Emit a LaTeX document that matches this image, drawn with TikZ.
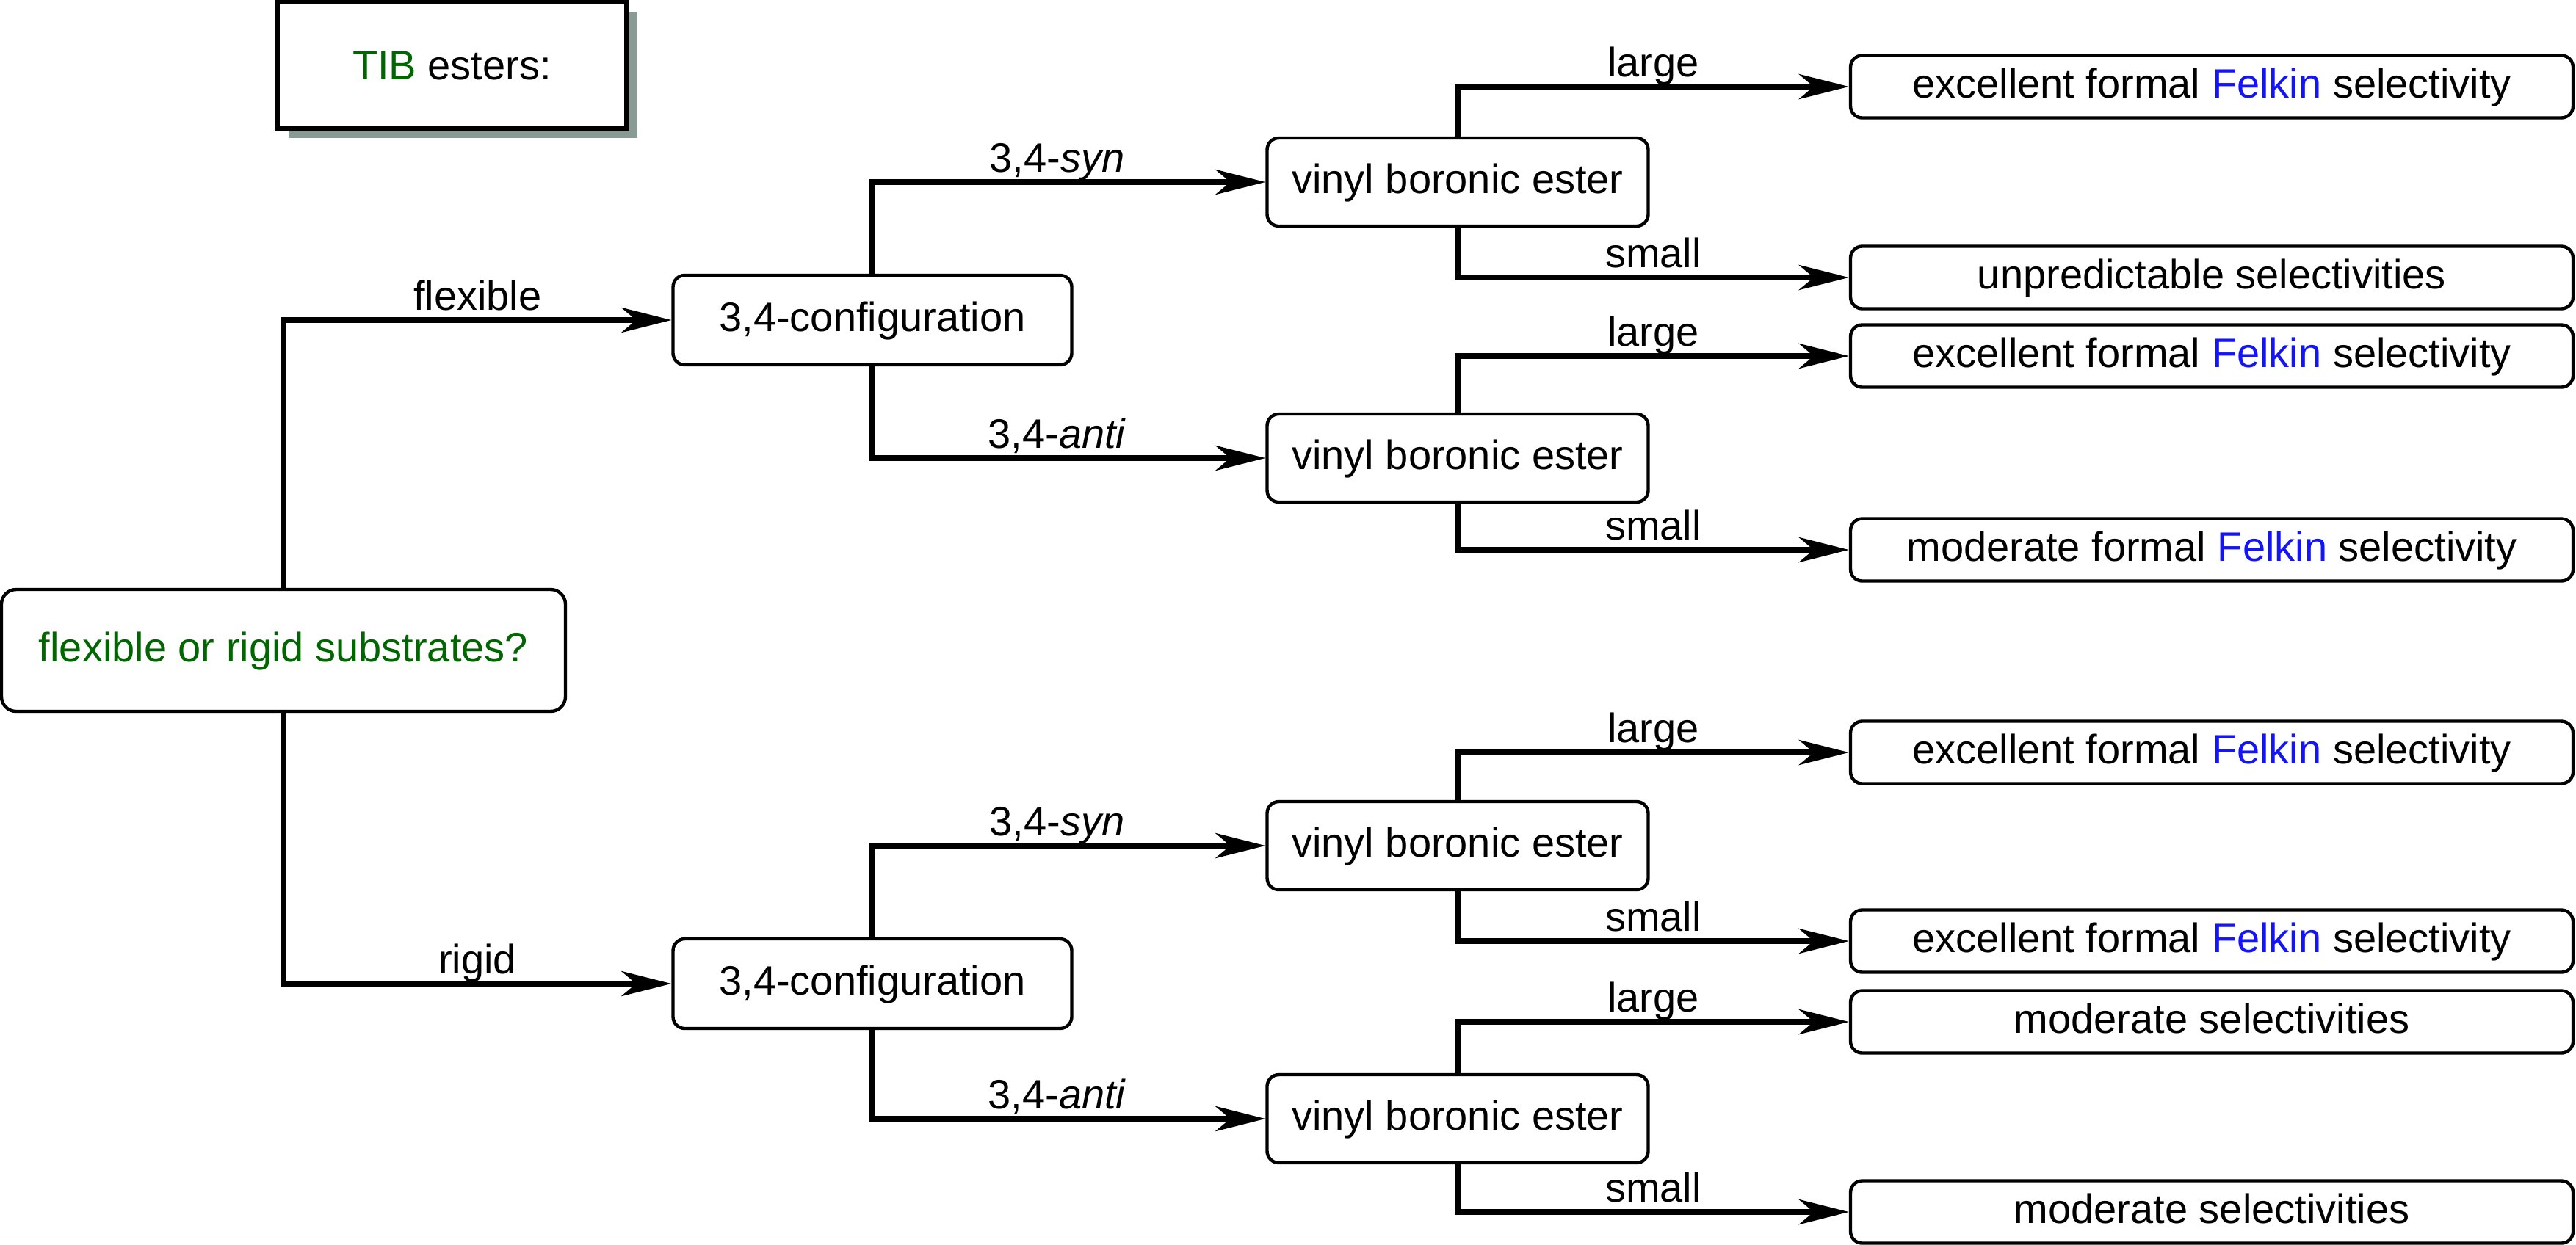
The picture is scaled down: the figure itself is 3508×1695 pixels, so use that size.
\documentclass[tikz,border=0pt]{standalone}
\usepackage{fontspec}
\setmainfont{Liberation Sans}
\usetikzlibrary{arrows.meta,shadows}
\definecolor{tibgreen}{HTML}{006600}
\definecolor{felkinblue}{HTML}{1414F5}
\definecolor{shadowc}{HTML}{8A9A94}
\begin{document}
\begin{tikzpicture}[x=0.25pt,y=-0.25pt,
  font=\fontsize{14pt}{17pt}\selectfont,
  box/.style={draw, line width=1.1pt, rounded corners=4pt, fill=white, inner sep=0pt, align=center, text height=10.5pt, text depth=3pt},
  rootbox/.style={box, rounded corners=5pt, minimum width=192pt, minimum height=41.5pt, text=tibgreen},
  cfg/.style={box, minimum width=135.75pt, minimum height=30.5pt},
  vin/.style={box, minimum width=129.75pt, minimum height=30pt},
  leaf/.style={box, minimum width=246pt, minimum height=21.25pt},
  tibbox/.style={draw, line width=1.3pt, fill=white, minimum width=118.75pt, minimum height=43pt, inner sep=0pt,
     drop shadow={shadow xshift=3.75pt, shadow yshift=-3.25pt, fill=shadowc, opacity=1}},
  conn/.style={line width=2pt, -{Stealth[length=17pt,width=8.5pt,inset=5pt]}},
  lab/.style={anchor=base, yshift=3.3pt, pos=0.75},
  clab/.style={lab, pos=0.735}]
\useasboundingbox (0,0) rectangle (3508,1695);

\node[tibbox] (tib) at (615.5,89) {\textcolor{tibgreen}{TIB} esters:};
\node[rootbox] (root) at (386,886) {flexible or rigid substrates?};

\node[cfg] (c1) at (1188,436) {3,4-configuration};
\node[cfg] (c2) at (1188,1340) {3,4-configuration};

\node[vin] (v1) at (1985,248) {vinyl boronic ester};
\node[vin] (v2) at (1985,624) {vinyl boronic ester};
\node[vin] (v3) at (1985,1152) {vinyl boronic ester};
\node[vin] (v4) at (1985,1524) {vinyl boronic ester};

\node[leaf] (l1) at (3012,118) {excellent formal \textcolor{felkinblue}{Felkin} selectivity};
\node[leaf] (l2) at (3012,378) {unpredictable selectivities};
\node[leaf] (l3) at (3012,485) {excellent formal \textcolor{felkinblue}{Felkin} selectivity};
\node[leaf] (l4) at (3012,749) {moderate formal \textcolor{felkinblue}{Felkin} selectivity};
\node[leaf] (l5) at (3012,1025) {excellent formal \textcolor{felkinblue}{Felkin} selectivity};
\node[leaf] (l6) at (3012,1282) {excellent formal \textcolor{felkinblue}{Felkin} selectivity};
\node[leaf] (l7) at (3012,1392) {moderate selectivities};
\node[leaf] (l8) at (3012,1651) {moderate selectivities};

\draw[conn] (root.north) |- (c1.west) node[lab] {flexible};
\draw[conn] (root.south) |- (c2.west) node[lab] {rigid};

\draw[conn] (c1.north) |- (v1.west) node[clab] {3,4-\textit{syn}};
\draw[conn] (c1.south) |- (v2.west) node[clab] {3,4-\textit{anti}};
\draw[conn] (c2.north) |- (v3.west) node[clab] {3,4-\textit{syn}};
\draw[conn] (c2.south) |- (v4.west) node[clab] {3,4-\textit{anti}};

\draw[conn] (v1.north) |- (l1.west) node[lab] {large};
\draw[conn] (v1.south) |- (l2.west) node[lab] {small};
\draw[conn] (v2.north) |- (l3.west) node[lab] {large};
\draw[conn] (v2.south) |- (l4.west) node[lab] {small};
\draw[conn] (v3.north) |- (l5.west) node[lab] {large};
\draw[conn] (v3.south) |- (l6.west) node[lab] {small};
\draw[conn] (v4.north) |- (l7.west) node[lab] {large};
\draw[conn] (v4.south) |- (l8.west) node[lab] {small};
\end{tikzpicture}
\end{document}
